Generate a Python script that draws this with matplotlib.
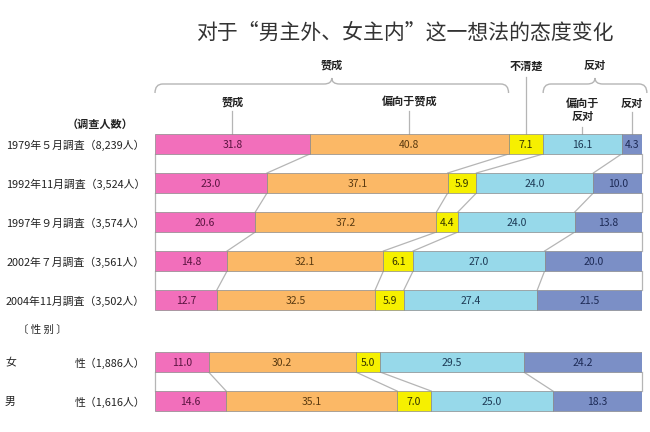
import matplotlib
matplotlib.use("Agg")
import matplotlib.pyplot as plt
import matplotlib.transforms as mtransforms
from matplotlib.path import Path as MPath
from matplotlib.patches import PathPatch
import numpy as np

plt.rcParams["font.family"] = ["Noto Sans CJK JP", "DejaVu Sans"]

# ---------- 数据 ----------
TITLE = "对于“男主外、女主内”这一想法的态度变化"
ROW_LABELS = [
    "1979年５月調査（8,239人）",
    "1992年11月調査（3,524人）",
    "1997年９月調査（3,574人）",
    "2002年７月調査（3,561人）",
    "2004年11月調査（3,502人）",
    "性（1,886人）",
    "性（1,616人）",
]
GENDER_PREFIX = {5: "女", 6: "男"}
CATEGORIES = ["赞成", "偏向于赞成", "不清楚", "偏向于\n反对", "反对"]
PCT_AGREE = [31.8, 23.0, 20.6, 14.8, 12.7, 11.0, 14.6]
PCT_LEAN_AGREE = [40.8, 37.1, 37.2, 32.1, 32.5, 30.2, 35.1]
PCT_UNSURE = [7.1, 5.9, 4.4, 6.1, 5.9, 5.0, 7.0]
PCT_LEAN_OPPOSE = [16.1, 24.0, 24.0, 27.0, 27.4, 29.5, 25.0]
PCT_OPPOSE = [4.3, 10.0, 13.8, 20.0, 21.5, 24.2, 18.3]

# ---------- 布局与样式 ----------
W, H = 650, 432
ROW_Y = [144, 183, 222, 261, 300, 362, 401]   # 像素行中心
BAR_H = 20
LINK_PAIRS = [(0, 1), (1, 2), (2, 3), (3, 4), (5, 6)]
COLORS = ["#f26fbb", "#fbb866", "#f6f000", "#97d9ea", "#7b8fc6"]
TXT_COLORS = ["#5a1440", "#5a3a10", "#333300", "#1d3a55", "#1d2a55"]
LINE_C = "#b5b5b5"

fig = plt.figure(figsize=(W / 100, H / 100), dpi=100)
ax = fig.add_axes([155 / W, 0, 487 / W, 1])
ax.set_xlim(0, 100)
ax.set_ylim(H, 0)
ax.axis("off")

data = np.array([PCT_AGREE, PCT_LEAN_AGREE, PCT_UNSURE, PCT_LEAN_OPPOSE, PCT_OPPOSE]).T
cum = np.hstack([np.zeros((data.shape[0], 1)), np.cumsum(data, axis=1)])
cum[:, -1] = 100.0

# 堆积条
for k in range(data.shape[1]):
    ax.barh(ROW_Y, data[:, k], left=cum[:, k], height=BAR_H, color=COLORS[k],
            edgecolor="#8a8a8a", linewidth=0.5, zorder=2)
    for i, y in enumerate(ROW_Y):
        ax.text(cum[i, k] + data[i, k] / 2, y + 1, f"{data[i, k]:.1f}", ha="center",
                va="center", fontsize=7.5, color=TXT_COLORS[k], zorder=3)

# 行间连接线
for a, b in LINK_PAIRS:
    for k in range(cum.shape[1]):
        ax.plot([cum[a, k], cum[b, k]], [ROW_Y[a] + BAR_H / 2, ROW_Y[b] - BAR_H / 2],
                color=LINE_C, lw=0.9, zorder=1, clip_on=False)

# 行标签
lab_tr = mtransforms.blended_transform_factory(fig.transFigure, ax.transData)
for i, (lab, y) in enumerate(zip(ROW_LABELS, ROW_Y)):
    ax.text(145 / W, y + 1, lab, transform=lab_tr, ha="right", va="center",
            fontsize=7.8, color="#222222")
    if i in GENDER_PREFIX:
        ax.text(5 / W, y + 1, GENDER_PREFIX[i], transform=lab_tr, ha="left",
                va="center", fontsize=7.8, color="#222222")
ax.text(100 / W, 124, "（调查人数）", transform=lab_tr, ha="center", va="center",
        fontsize=8, fontweight="bold", color="#222222")
ax.text(42 / W, 330, "〔 性 别 〕", transform=lab_tr, ha="center", va="center",
        fontsize=7.5, color="#222222")

# 顶部分类标注
top = ROW_Y[0] - BAR_H / 2
mids = cum[0, :-1] + data[0] / 2
label_y = [102, 102, 66, 110, 103]
line_top = [111, 111, 77, 127, 112]
for k, name in enumerate(CATEGORIES):
    ax.text(mids[k], label_y[k], name, ha="center", va="center", fontsize=8,
            fontweight="bold", color="#222222", linespacing=1.0)
    ax.plot([mids[k], mids[k]], [line_top[k], top], color=LINE_C, lw=0.9, zorder=1)


def brace(x0, x1, y_line=84, y_end=93, y_peak=78, r=1.6):
    xm = (x0 + x1) / 2
    verts = [
        (x0, y_end), (x0, y_line), (x0 + r, y_line),
        (xm - r, y_line),
        (xm, y_line), (xm, y_peak),
        (xm, y_line), (xm + r, y_line),
        (x1 - r, y_line),
        (x1, y_line), (x1, y_end),
    ]
    codes = [MPath.MOVETO, MPath.CURVE3, MPath.CURVE3, MPath.LINETO,
             MPath.CURVE3, MPath.CURVE3, MPath.CURVE3, MPath.CURVE3,
             MPath.LINETO, MPath.CURVE3, MPath.CURVE3]
    ax.add_patch(PathPatch(MPath(verts, codes), fill=False, edgecolor=LINE_C,
                           lw=1.0, clip_on=False))
    return xm


xm = brace(0, cum[0, 2])
ax.text(xm, 65, "赞成", ha="center", va="center", fontsize=8, fontweight="bold",
        color="#222222")
xm = brace(cum[0, 3], 101)
ax.text(xm, 65, "反对", ha="center", va="center", fontsize=8, fontweight="bold",
        color="#222222")

fig.text(405 / W, 1 - 33 / H, TITLE, ha="center", va="center", fontsize=15,
         family=["Noto Sans CJK SC", "DejaVu Sans"], color="#333333")

fig.savefig("out.png", dpi=100)
